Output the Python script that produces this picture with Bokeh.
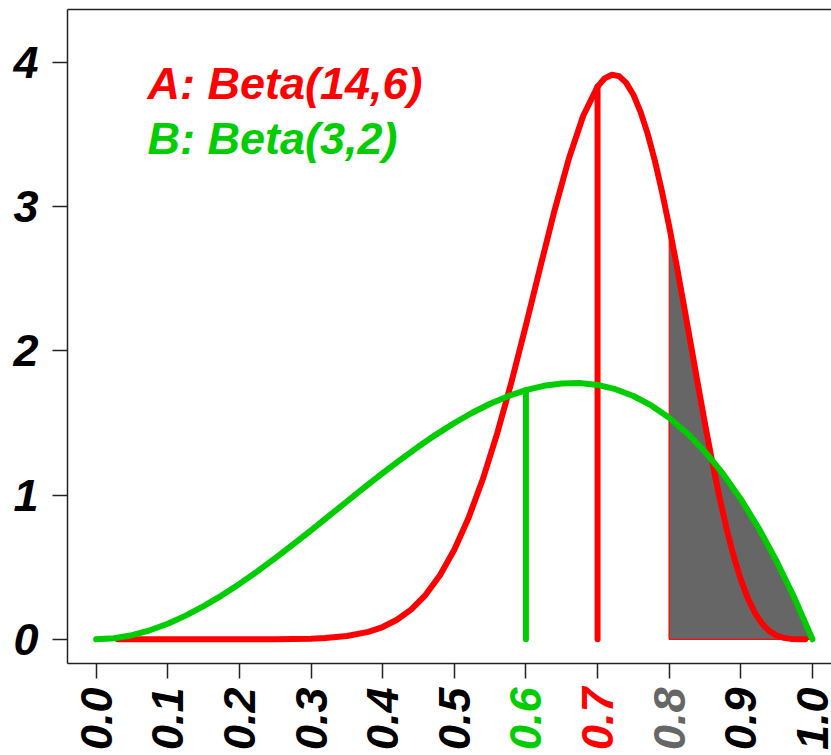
import math
from bokeh.plotting import figure
from bokeh.models import Range1d, FixedTicker, LinearAxis, Label, ColumnDataSource
from bokeh.layouts import column
from bokeh.core.properties import value
from bokeh.embed import file_html
from bokeh.resources import INLINE

# ---------------- data ----------------
# B: Beta(3,2) density
green_x = [0.000, 0.025, 0.050, 0.075, 0.100, 0.125, 0.150, 0.175, 0.200, 0.225,
           0.250, 0.275, 0.300, 0.325, 0.350, 0.375, 0.400, 0.425, 0.450, 0.475,
           0.500, 0.525, 0.550, 0.575, 0.600, 0.625, 0.650, 0.675, 0.700, 0.725,
           0.750, 0.775, 0.800, 0.825, 0.850, 0.875, 0.900, 0.925, 0.950, 0.975,
           1.000]
green_y = [0.0000, 0.0073, 0.0285, 0.0624, 0.1080, 0.1641, 0.2295, 0.3032, 0.3840, 0.4708,
           0.5625, 0.6579, 0.7560, 0.8556, 0.9555, 1.0547, 1.1520, 1.2463, 1.3365, 1.4214,
           1.5000, 1.5711, 1.6335, 1.6862, 1.7280, 1.7578, 1.7745, 1.7769, 1.7640, 1.7346,
           1.6875, 1.6217, 1.5360, 1.4293, 1.3005, 1.1484, 0.9720, 0.7701, 0.5415, 0.2852,
           0.0000]

# A: Beta(14,6) density
red_x = [0.03, 0.10, 0.20, 0.25, 0.30, 0.32, 0.35, 0.38, 0.40, 0.42,
         0.44, 0.46, 0.48, 0.50, 0.52, 0.54, 0.56, 0.58, 0.60, 0.62,
         0.64, 0.66, 0.68, 0.70, 0.71, 0.72, 0.73, 0.74, 0.75, 0.76,
         0.77, 0.78, 0.79, 0.80, 0.81, 0.82, 0.83, 0.84, 0.85, 0.86,
         0.87, 0.88, 0.89, 0.90, 0.91, 0.92, 0.93, 0.94, 0.95, 0.96,
         0.97, 0.98, 0.99]
red_y = [0.0000, 0.0000, 0.0000, 0.0006, 0.0044, 0.0087, 0.0223, 0.0514, 0.0849, 0.1352,
         0.2077, 0.3086, 0.4445, 0.6210, 0.8431, 1.1131, 1.4300, 1.7883, 2.1773, 2.5801,
         2.9750, 3.3349, 3.6311, 3.8332, 3.8907, 3.9155, 3.9057, 3.8593, 3.7771, 3.6582,
         3.5050, 3.3189, 3.1038, 2.8639, 2.6045, 2.3312, 2.0506, 1.7696, 1.4946, 1.2325,
         0.9888, 0.7689, 0.5764, 0.4138, 0.2821, 0.1805, 0.1065, 0.0566, 0.0261, 0.0098,
         0.0027, 0.0004, 0.0000]

x_ticks = [0.0, 0.1, 0.2, 0.3, 0.4, 0.5, 0.6, 0.7, 0.8, 0.9, 1.0]
x_tick_labels = ["0.0", "0.1", "0.2", "0.3", "0.4", "0.5", "0.6", "0.7", "0.8", "0.9", "1.0"]
x_tick_colors = ["black", "black", "black", "black", "black", "black",
                 "#00CD00", "#FF0000", "#666666", "black", "black"]
y_ticks = [0, 1, 2, 3, 4]

mark_green = 0.6   # vertical line for B
mark_red = 0.7     # vertical line for A
shade_from = 0.8   # shaded tail start

legend_texts = ["A: Beta(14,6)", "B: Beta(3,2)"]

RED = "#FF0000"
GREEN = "#00CD00"
GREY = "#666666"
AXC = "#222222"
FONT = "Liberation Sans"
FS = "45px"

# ---------------- main figure ----------------
p = figure(width=831, height=680, output_backend="svg", toolbar_location=None,
           x_range=Range1d(-0.04, 1.0266), y_range=Range1d(-0.168, 4.368),
           x_axis_location=None, y_axis_location=None,
           min_border_left=67, min_border_right=0, min_border_top=9,
           min_border_bottom=17)
p.grid.visible = False
p.outline_line_color = None
p.background_fill_color = "white"
p.border_fill_color = "white"

# left axis
yax = LinearAxis(ticker=FixedTicker(ticks=y_ticks))
yax.axis_line_width = 1.5
yax.axis_line_color = AXC
yax.major_tick_line_width = 1.5
yax.major_tick_line_color = AXC
yax.major_tick_out = 15
yax.major_tick_in = 0
yax.minor_tick_line_color = None
yax.major_label_standoff = 14
yax.major_label_text_font = FONT
yax.major_label_text_font_style = "bold italic"
yax.major_label_text_font_size = FS
yax.major_label_text_color = "black"
p.add_layout(yax, "left")

# bottom axis: line and ticks (labels drawn in the strip below)
xax = LinearAxis(ticker=FixedTicker(ticks=x_ticks))
xax.axis_line_width = 1.5
xax.axis_line_color = AXC
xax.major_tick_line_width = 1.5
xax.major_tick_line_color = AXC
xax.major_tick_out = 15
xax.major_tick_in = 0
xax.minor_tick_line_color = None
xax.major_label_text_font_size = "0px"
xax.major_label_overrides = {t: "" for t in x_ticks}
p.add_layout(xax, "below")

# top border of the box
tax = LinearAxis(ticker=FixedTicker(ticks=[]))
tax.axis_line_width = 1.5
tax.axis_line_color = AXC
tax.major_tick_line_color = None
tax.minor_tick_line_color = None
tax.major_label_text_font_size = "0px"
p.add_layout(tax, "above")

# shaded tails (0.8 .. 1)
rx = [x for x in red_x if x >= shade_from]
ry = [y for x, y in zip(red_x, red_y) if x >= shade_from]
p.patch([shade_from] + rx + [1.0], [0] + ry + [0],
        fill_color=GREY, line_color=RED, line_width=1)
gx = [x for x in green_x if x >= shade_from]
gy = [y for x, y in zip(green_x, green_y) if x >= shade_from]
p.patch([shade_from] + gx + [1.0], [0] + gy + [0],
        fill_color=GREY, line_color=RED, line_width=1)

# vertical marks
g_top = green_y[green_x.index(mark_green)]
r_top = red_y[red_x.index(mark_red)]
p.segment(x0=[mark_green], y0=[0], x1=[mark_green], y1=[g_top],
          line_color=GREEN, line_width=6, line_cap="round")
p.segment(x0=[mark_red], y0=[0], x1=[mark_red], y1=[r_top],
          line_color=RED, line_width=6, line_cap="round")

# density curves
p.line(red_x, red_y, line_color=RED, line_width=6, line_cap="round", line_join="round")
p.line(green_x, green_y, line_color=GREEN, line_width=6, line_cap="round", line_join="round")

# legend texts
p.add_layout(Label(x=0.0717, y=3.855, text=legend_texts[0], text_color=RED,
                   text_font=FONT, text_font_style="bold italic", text_font_size=FS,
                   text_baseline="alphabetic", text_align="left"))
p.add_layout(Label(x=0.0717, y=3.473, text=legend_texts[1], text_color=GREEN,
                   text_font=FONT, text_font_style="bold italic", text_font_size=FS,
                   text_baseline="alphabetic", text_align="left"))

# ---------------- strip with the coloured x tick labels ----------------
q = figure(width=831, height=75, output_backend="svg", toolbar_location=None,
           x_range=p.x_range, y_range=Range1d(0, 75),
           x_axis_location=None, y_axis_location=None,
           min_border_left=67, min_border_right=0, min_border_top=0,
           min_border_bottom=0)
q.grid.visible = False
q.outline_line_color = None
q.background_fill_color = "white"
q.border_fill_color = "white"

lab_src = ColumnDataSource(dict(x=x_ticks, y=[68] * len(x_ticks),
                                text=x_tick_labels, color=x_tick_colors))
q.text(x="x", y="y", text="text", source=lab_src, angle=math.pi / 2,
       text_align="right", text_baseline="middle", text_color="color",
       text_font=value(FONT), text_font_style="bold italic", text_font_size=FS)

layout = column(p, q, spacing=0)
open("out.html", "w").write(file_html(layout, INLINE))
